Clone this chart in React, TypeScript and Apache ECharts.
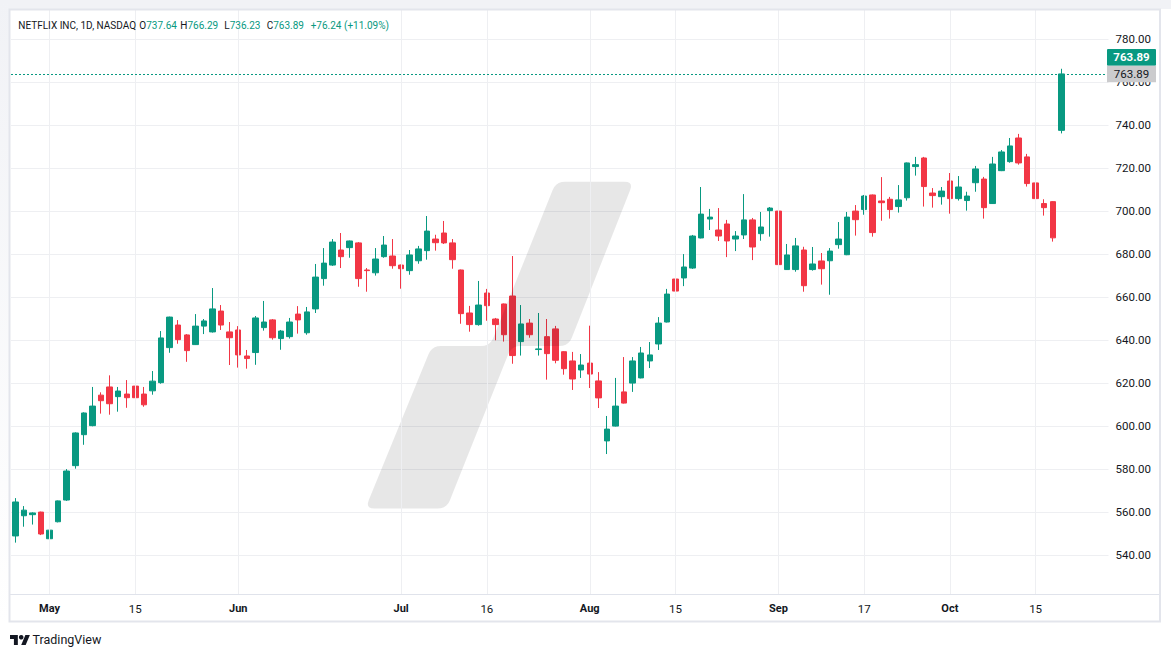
import React, { useEffect, useRef } from "react";
import * as echarts from "echarts";

const symbolTitle = "NETFLIX INC, 1D, NASDAQ";

const dates = [
  "2024-04-25", "2024-04-26", "2024-04-29", "2024-04-30",
  "2024-05-01", "2024-05-02", "2024-05-03", "2024-05-06", "2024-05-07", "2024-05-08", "2024-05-09", "2024-05-10",
  "2024-05-13", "2024-05-14", "2024-05-15", "2024-05-16", "2024-05-17", "2024-05-20", "2024-05-21", "2024-05-22",
  "2024-05-23", "2024-05-24", "2024-05-28", "2024-05-29", "2024-05-30", "2024-05-31",
  "2024-06-03", "2024-06-04", "2024-06-05", "2024-06-06", "2024-06-07", "2024-06-10", "2024-06-11", "2024-06-12",
  "2024-06-13", "2024-06-14", "2024-06-17", "2024-06-18", "2024-06-20", "2024-06-21", "2024-06-24", "2024-06-25",
  "2024-06-26", "2024-06-27", "2024-06-28",
  "2024-07-01", "2024-07-02", "2024-07-03", "2024-07-05", "2024-07-08", "2024-07-09", "2024-07-10", "2024-07-11",
  "2024-07-12", "2024-07-15", "2024-07-16", "2024-07-17", "2024-07-18", "2024-07-19", "2024-07-22", "2024-07-23",
  "2024-07-24", "2024-07-25", "2024-07-26", "2024-07-29", "2024-07-30", "2024-07-31",
  "2024-08-01", "2024-08-02", "2024-08-05", "2024-08-06", "2024-08-07", "2024-08-08", "2024-08-09", "2024-08-12",
  "2024-08-13", "2024-08-14", "2024-08-15", "2024-08-16", "2024-08-19", "2024-08-20", "2024-08-21", "2024-08-22",
  "2024-08-23", "2024-08-26", "2024-08-27", "2024-08-28", "2024-08-29", "2024-08-30",
  "2024-09-03", "2024-09-04", "2024-09-05", "2024-09-06", "2024-09-09", "2024-09-10", "2024-09-11", "2024-09-12",
  "2024-09-13", "2024-09-16", "2024-09-17", "2024-09-18", "2024-09-19", "2024-09-20", "2024-09-23", "2024-09-24",
  "2024-09-25", "2024-09-26", "2024-09-27", "2024-09-30",
  "2024-10-01", "2024-10-02", "2024-10-03", "2024-10-04", "2024-10-07", "2024-10-08", "2024-10-09", "2024-10-10",
  "2024-10-11", "2024-10-14", "2024-10-15", "2024-10-16", "2024-10-17", "2024-10-18",
];

const opens = [
  549.0, 558.4, 558.9, 560.1,
  547.7, 555.6, 565.7, 581.7, 596.1, 600.3, 614.5, 618.3,
  613.8, 615.0, 618.7, 615.0, 616.5, 620.3, 636.6, 647.1,
  642.5, 638.0, 646.6, 643.9, 653.6, 643.9,
  644.8, 632.7, 634.3, 645.9, 649.5, 640.8, 641.7, 652.2,
  643.5, 654.6, 668.7, 675.0, 682.0, 683.1, 685.3, 672.7,
  671.4, 678.9, 679.2,
  675.0, 672.4, 677.0, 681.7, 687.1, 689.9, 685.3, 672.7,
  652.7, 647.3, 662.0, 649.9, 656.9, 660.6, 639.4, 648.0,
  635.7, 641.7, 645.3, 634.7, 630.4, 626.2,
  629.4, 621.1, 593.2, 600.1, 616.0, 620.1, 622.5, 630.4,
  638.3, 648.5, 668.5, 669.0, 673.6, 687.6, 696.4, 691.3,
  694.1, 687.1, 689.0, 696.0, 689.6, 700.3,
  700.1, 672.9, 672.9, 682.0, 672.9, 676.9, 677.0, 684.5,
  679.8, 700.1, 700.8, 707.6, 704.8, 705.6, 702.2, 706.3,
  720.8, 724.8, 708.5, 706.8,
  714.1, 705.9, 705.0, 713.3, 715.0, 703.6, 718.9, 723.1,
  734.1, 725.3, 713.2, 703.6, 704.5, 737.64,
];

const highs = [
  566.6, 562.9, 560.0, 560.3,
  560.1, 565.5, 580.1, 597.2, 606.5, 618.3, 615.8, 623.7,
  618.3, 621.5, 624.3, 618.3, 625.7, 644.3, 651.0, 649.4,
  642.9, 652.2, 649.9, 664.3, 656.4, 648.5,
  646.6, 635.5, 651.3, 658.3, 649.9, 644.8, 650.4, 655.9,
  655.5, 675.5, 682.9, 687.1, 689.9, 686.4, 685.7, 673.6,
  682.9, 688.5, 687.1,
  675.2, 682.0, 683.9, 697.8, 689.1, 695.5, 687.1, 672.9,
  656.0, 667.6, 663.9, 650.4, 657.1, 679.2, 656.4, 649.9,
  652.7, 649.9, 646.7, 634.9, 634.6, 633.6,
  646.8, 625.2, 604.8, 622.5, 632.2, 632.2, 636.9, 639.2,
  650.8, 663.9, 673.2, 680.1, 689.0, 711.3, 701.1, 701.5,
  696.0, 690.8, 708.0, 696.9, 699.7, 702.0,
  703.9, 684.8, 687.6, 683.5, 683.4, 680.6, 682.9, 695.0,
  699.7, 702.9, 707.6, 707.8, 715.9, 706.7, 712.2, 722.7,
  725.3, 725.3, 710.8, 711.3,
  717.8, 716.4, 709.1, 721.1, 716.0, 725.3, 728.5, 734.1,
  736.0, 726.7, 713.6, 705.6, 704.7, 766.29,
];

const lows = [
  545.9, 553.3, 554.3, 549.4,
  544.5, 555.3, 565.3, 580.3, 591.4, 600.0, 605.9, 605.4,
  606.8, 608.6, 609.1, 609.1, 614.7, 619.8, 634.2, 638.4,
  630.0, 637.8, 642.9, 643.6, 644.8, 628.5,
  627.3, 626.8, 628.6, 644.5, 640.3, 635.6, 640.8, 643.1,
  642.6, 652.7, 665.4, 674.6, 673.6, 678.4, 664.9, 662.6,
  670.1, 678.4, 673.3,
  664.0, 670.5, 675.6, 677.5, 681.7, 684.8, 673.3, 647.7,
  644.0, 646.8, 649.1, 640.0, 639.4, 629.1, 632.9, 641.2,
  632.9, 621.7, 629.3, 624.0, 616.9, 622.5,
  617.8, 608.5, 587.1, 599.9, 610.6, 616.0, 622.3, 627.1,
  635.5, 648.3, 659.7, 665.2, 673.2, 687.4, 691.3, 686.2,
  678.7, 681.5, 687.1, 677.3, 686.3, 688.2,
  671.5, 672.7, 671.9, 662.6, 672.4, 665.9, 661.2, 682.6,
  679.6, 688.7, 698.4, 688.2, 695.6, 696.6, 699.4, 705.0,
  716.6, 702.2, 701.7, 703.1,
  698.9, 705.0, 700.3, 709.1, 696.6, 703.4, 718.7, 722.6,
  721.7, 711.5, 699.8, 698.0, 685.9, 736.23,
];

const closes = [
  564.8, 561.0, 559.7, 549.9,
  551.7, 565.3, 579.2, 596.9, 606.2, 609.4, 611.9, 610.5,
  616.4, 613.3, 613.3, 610.0, 621.0, 641.1, 650.8, 640.3,
  635.2, 646.6, 649.0, 654.6, 647.1, 641.2,
  633.2, 631.5, 650.4, 648.5, 641.2, 644.3, 648.5, 649.5,
  653.2, 669.4, 675.9, 685.7, 678.9, 686.2, 668.7, 672.4,
  677.8, 684.3, 674.7,
  673.3, 679.7, 682.5, 690.8, 685.4, 685.3, 677.5, 652.4,
  647.3, 656.4, 656.1, 647.3, 642.6, 632.9, 647.6, 642.6,
  636.0, 633.8, 630.7, 626.8, 622.0, 628.5,
  624.3, 613.2, 598.7, 609.4, 610.8, 630.4, 634.1, 633.2,
  648.0, 661.5, 662.9, 674.1, 688.5, 698.7, 697.3, 688.5,
  686.2, 688.5, 696.0, 683.4, 692.7, 701.5,
  675.2, 679.7, 683.9, 665.4, 675.5, 673.3, 681.5, 687.1,
  697.3, 696.1, 707.1, 690.1, 704.0, 700.8, 705.3, 722.5,
  721.7, 711.5, 707.3, 709.4,
  705.9, 711.3, 707.1, 719.7, 701.7, 722.0, 727.6, 730.4,
  722.5, 712.9, 705.9, 701.7, 687.65, 763.89,
];

const padCategories = ["pad-1", "pad-2", "pad-3", "pad-4", "pad-5"];

const timeLabelDates = [
  "2024-05-01", "2024-05-15", "2024-06-03", "2024-07-01", "2024-07-16", "2024-08-01",
  "2024-08-15", "2024-09-03", "2024-09-17", "2024-10-01", "2024-10-15",
];
const timeLabelTexts = ["May", "15", "Jun", "Jul", "16", "Aug", "15", "Sep", "17", "Oct", "15"];

const priceMin = 520;
const priceMax = 800;
const priceStep = 20;

const UP = "#089981";
const DOWN = "#f23645";
const TEXT = "#131722";
const GRID = "#eeeff2";
const BORDER = "#e0e3eb";
const FONT = "Roboto";

// the chart canvas starts above the page so that the price scale can overshoot the top edge
const OFF = 20;
const W = 1171;
const H = 657;

echarts.graphic.registerShape(
  "tvlogo",
  echarts.graphic.extendPath("M14 22H7V11H0V4h14v18zM28 22h-8l7.5-18h8L28 22z", {})
);

function roundedPolygon(pts: number[][], r: number, steps = 5): number[][] {
  const out: number[][] = [];
  const n = pts.length;
  for (let i = 0; i < n; i++) {
    const P = pts[i];
    const A = pts[(i - 1 + n) % n];
    const B = pts[(i + 1) % n];
    const la = Math.hypot(A[0] - P[0], A[1] - P[1]);
    const lb = Math.hypot(B[0] - P[0], B[1] - P[1]);
    const rr = Math.min(r, la / 2, lb / 2);
    const p1 = [P[0] + ((A[0] - P[0]) / la) * rr, P[1] + ((A[1] - P[1]) / la) * rr];
    const p2 = [P[0] + ((B[0] - P[0]) / lb) * rr, P[1] + ((B[1] - P[1]) / lb) * rr];
    for (let s = 0; s <= steps; s++) {
      const t = s / steps;
      const a = (1 - t) * (1 - t);
      const b = 2 * (1 - t) * t;
      const c = t * t;
      out.push([a * p1[0] + b * P[0] + c * p2[0], a * p1[1] + b * P[1] + c * p2[1]]);
    }
  }
  return out;
}

const fmt = (v: number) => v.toFixed(2);

export default function App() {
  const ref = useRef<HTMLDivElement>(null);

  useEffect(() => {
    if (!ref.current) return;
    const chart = echarts.init(ref.current, null, { renderer: "svg" });
    const last = dates.length - 1;
    const candleData = dates.map((_, i) => [opens[i], closes[i], lows[i], highs[i]]);

    chart.setOption({
      animation: false,
      textStyle: { fontFamily: FONT },
      grid: { left: 11, right: 62.5, top: OFF - 3.7, bottom: 58.7, containLabel: false },
      xAxis: {
        type: "category",
        data: [...dates, ...padCategories],
        boundaryGap: true,
        z: 10,
        axisLine: { show: false },
        axisTick: { show: false },
        splitLine: { show: false },
        axisLabel: {
          interval: (_i: number, v: string) => timeLabelDates.indexOf(v) >= 0,
          margin: 4,
          formatter: (v: string) => {
            const k = timeLabelDates.indexOf(v);
            if (k < 0) return "";
            const t = timeLabelTexts[k];
            return /^\d+$/.test(t) ? `{d|${t}}` : `{m|${t}}`;
          },
          rich: {
            m: { fontFamily: FONT, fontSize: 11, fontWeight: "bold", color: TEXT, lineHeight: 13 },
            d: { fontFamily: FONT, fontSize: 11.5, color: TEXT, lineHeight: 13 },
          },
        },
      },
      yAxis: {
        type: "value",
        position: "right",
        min: priceMin,
        max: priceMax,
        interval: priceStep,
        axisLine: { show: false },
        axisTick: { show: false },
        splitLine: { show: true, lineStyle: { color: GRID, width: 1 } },
        axisLabel: {
          margin: 7,
          color: TEXT,
          fontSize: 11.5,
          fontFamily: FONT,
          showMinLabel: false,
          showMaxLabel: false,
          formatter: (v: number) => fmt(v),
        },
      },
      series: [
        {
          type: "line",
          data: closes,
          z: 1,
          silent: true,
          symbol: "none",
          lineStyle: { opacity: 0, width: 0 },
          markLine: {
            silent: true,
            symbol: ["none", "none"],
            label: { show: false },
            lineStyle: { color: GRID, type: "solid", width: 1 },
            data: timeLabelDates.map((d) => ({ xAxis: d })),
          },
        },
        {
          type: "candlestick",
          z: 2,
          data: candleData,
          barWidth: 6,
          itemStyle: {
            color: UP,
            color0: DOWN,
            borderColor: UP,
            borderColor0: DOWN,
            borderWidth: 1,
          },
          markLine: {
            silent: true,
            symbol: ["none", "none"],
            label: { show: false },
            lineStyle: { color: UP, type: [2, 2], width: 1, opacity: 1 },
            data: [{ yAxis: closes[last] }],
          },
        },
      ],
    });

    const py = (chart.convertToPixel({ yAxisIndex: 0 }, closes[last]) as number) - OFF;
    const change = closes[last] - closes[last - 1];
    const pct = (change / closes[last - 1]) * 100;

    const watermarkCorners = [
      [556, 181.7],
      [633.5, 181.7],
      [568.5, 346],
      [511.6, 346],
      [446.6, 508.5],
      [365.3, 508.5],
      [431.9, 346],
      [490, 346],
    ];

    const HF = 10;
    const headerRich = {
      k: { fill: TEXT, fontSize: HF, fontFamily: FONT },
      v: { fill: UP, fontSize: HF, fontFamily: FONT },
    };
    const ohlc = [
      { key: "O", val: opens[last], x: 139.3 },
      { key: "H", val: highs[last], x: 180.3 },
      { key: "L", val: lows[last], x: 224.3 },
      { key: "C", val: closes[last], x: 266.7 },
    ];

    chart.setOption({
      graphic: {
        elements: [
          {
            type: "group",
            x: 0,
            y: OFF,
            children: [
              {
                type: "polygon",
                z: 3,
                silent: true,
                shape: { points: roundedPolygon(watermarkCorners, 9) },
                style: { fill: "rgba(0,0,0,0.095)" },
              },
              { type: "rect", z: 5, silent: true, shape: { x: 0, y: 594, width: W, height: H - 594 }, style: { fill: "#ffffff" } },
              { type: "rect", z: 5, silent: true, shape: { x: 0, y: -OFF, width: W, height: OFF + 9 }, style: { fill: "#f1f2f6" } },
              {
                type: "rect",
                z: 5,
                silent: true,
                shape: { x: 0, y: 0, width: 9, height: 622 },
                style: {
                  fill: new echarts.graphic.LinearGradient(0, 0, 0, 1, [
                    { offset: 0, color: "#f1f2f6" },
                    { offset: 1, color: "#ffffff" },
                  ]),
                },
              },
              {
                type: "line",
                z: 6,
                silent: true,
                shape: { x1: 10, y1: 594.5, x2: 1160, y2: 594.5 },
                style: { stroke: BORDER, lineWidth: 1 },
              },
              {
                type: "rect",
                z: 6,
                silent: true,
                shape: { x: 9.5, y: 9.5, width: 1150.5, height: 612 },
                style: { fill: "none", stroke: "#e3e5ec", lineWidth: 2 },
              },
              {
                type: "text",
                z: 7,
                x: 18.3,
                y: 25.2,
                style: { text: symbolTitle, fill: TEXT, fontSize: HF, fontFamily: FONT, verticalAlign: "middle" },
              },
              ...ohlc.map((o) => ({
                type: "text",
                z: 7,
                x: o.x,
                y: 25.2,
                style: {
                  text: `{k|${o.key}}{v|${fmt(o.val)}}`,
                  rich: headerRich,
                  fontSize: HF,
                  fontFamily: FONT,
                  verticalAlign: "middle",
                },
              })),
              {
                type: "text",
                z: 7,
                x: 310.7,
                y: 25.2,
                style: {
                  text: `${change >= 0 ? "+" : ""}${fmt(change)} (${pct >= 0 ? "+" : ""}${fmt(pct)}%)`,
                  fill: UP,
                  fontSize: HF,
                  fontFamily: FONT,
                  verticalAlign: "middle",
                },
              },
              {
                type: "rect",
                z: 8,
                silent: true,
                shape: { x: 1107, y: py - 25, width: 49, height: 16.7, r: 1 },
                style: { fill: UP },
              },
              {
                type: "text",
                z: 9,
                x: 1131.5,
                y: py - 16.5,
                style: {
                  text: fmt(closes[last]),
                  fill: "#ffffff",
                  fontSize: 11.5,
                  fontWeight: "bold",
                  fontFamily: FONT,
                  align: "center",
                  verticalAlign: "middle",
                },
              },
              {
                type: "rect",
                z: 8,
                silent: true,
                shape: { x: 1107, y: py - 8.3, width: 49, height: 16.6 },
                style: { fill: "#cbcbcd" },
              },
              {
                type: "text",
                z: 9,
                x: 1131.5,
                y: py,
                style: {
                  text: fmt(closes[last]),
                  fill: TEXT,
                  fontSize: 11.5,
                  fontFamily: FONT,
                  align: "center",
                  verticalAlign: "middle",
                },
              },
              {
                type: "tvlogo",
                z: 7,
                x: 10,
                y: 632.8,
                scaleX: 0.56,
                scaleY: 0.56,
                style: { fill: TEXT },
              },
              {
                type: "circle",
                z: 7,
                shape: { cx: 21.2, cy: 637.3, r: 2.3 },
                style: { fill: TEXT },
              },
              {
                type: "text",
                z: 7,
                x: 32.5,
                y: 639,
                style: { text: "TradingView", fill: TEXT, fontSize: 12.5, fontFamily: FONT, verticalAlign: "middle" },
              },
            ],
          },
        ],
      },
    });

    return () => chart.dispose();
  }, []);

  return (
    <div
      ref={ref}
      style={{ position: "fixed", left: 0, top: -OFF, width: W, height: H + OFF, background: "#ffffff" }}
    />
  );
}
